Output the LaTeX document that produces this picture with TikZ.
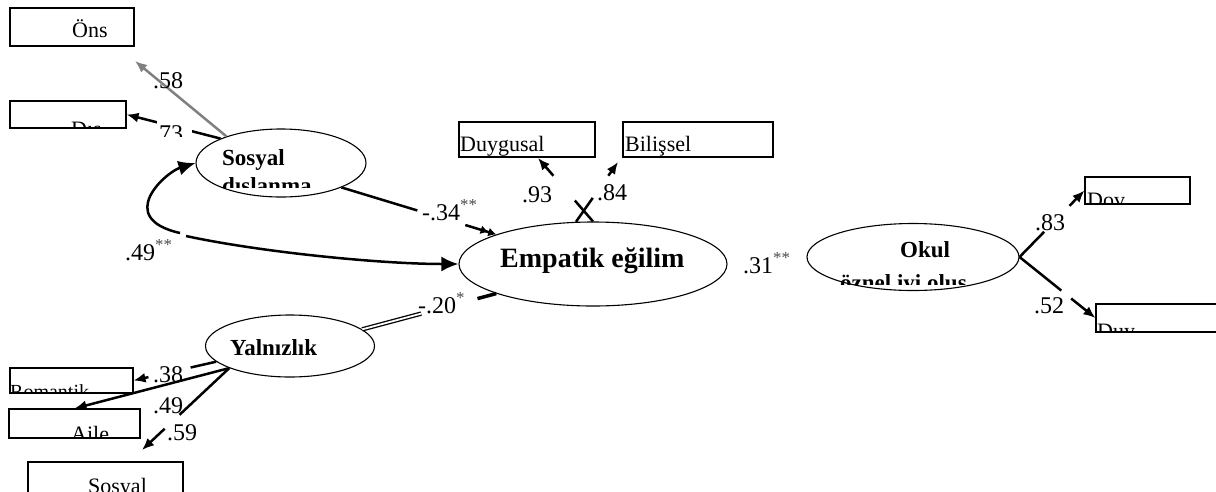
\documentclass[tikz,border=0pt]{standalone}
\usepackage{fontspec}
\setmainfont{Liberation Serif}
\usetikzlibrary{arrows.meta,shapes.geometric,calc}
\tikzset{
 lat/.style={ellipse,draw,line width=1.1pt,inner sep=0pt},
 obs/.style={rectangle,draw,line width=1.1pt,inner sep=0pt},
 conn/.style={line width=2.5pt},
 arr/.style={line width=2.5pt,-{Latex[length=12pt,width=10pt]}},
 bigarr/.style={line width=2.5pt,-{Latex[length=17pt,width=15pt]}},
 num/.style={font=\fontsize{24}{24}\selectfont,inner sep=0pt,anchor=base west},
 boxtxt/.style={font=\fontsize{22}{22}\selectfont,inner sep=0pt,anchor=base west},
 lattxt/.style={font=\bfseries\fontsize{23}{23}\selectfont,inner sep=0pt,anchor=base west},
}
\newcommand\stars[1]{\textsuperscript{\textcolor{black!70}{#1}}}
\begin{document}
\begin{tikzpicture}[x=1pt,y=-1pt]
\useasboundingbox (0,0) rectangle (1216,491);

% latent variables
\node[lat,minimum width=170pt,minimum height=68pt] (sd) at (281,163) {};
\node[lat,minimum width=268pt,minimum height=84pt] (emp) at (593,264) {};
\node[lat,minimum width=212pt,minimum height=67pt] (okul) at (913,257) {};
\node[lat,minimum width=169pt,minimum height=62pt] (yal) at (290,346) {};

% observed variables
\node[obs,minimum width=124pt,minimum height=38pt] (ons) at (72,27) {};
\node[obs,minimum width=116pt,minimum height=27pt] (dis) at (68,114.5) {};
\node[obs,minimum width=136pt,minimum height=35pt] (duyg) at (527,139.5) {};
\node[obs,minimum width=150pt,minimum height=35pt] (bil) at (698,139.5) {};
\node[obs,minimum width=105pt,minimum height=27pt] (dov) at (1137.5,190.5) {};
\node[obs,minimum width=134pt,minimum height=28pt] (duy) at (1163,318) {};
\node[obs,minimum width=123pt,minimum height=25pt] (rom) at (71.5,380.5) {};
\node[obs,minimum width=131pt,minimum height=29pt] (aile) at (74.5,423.5) {};
\node[obs,minimum width=155pt,minimum height=34pt] (sos) at (105.5,479) {};

% free arrow ends
\coordinate (onstip) at (135,61);
\coordinate (duygtip) at (538,158);
\coordinate (biltip) at (618,162);
\coordinate (sostip) at (142,450);

% texts in latent variables
\begin{scope}
\clip (200,135) rectangle (362,187);
\node[lattxt] (sdt1) at (222,165) {Sosyal};
\node[lattxt] (sdt2) at (222,193) {dışlanma};
\end{scope}
\node[font=\bfseries\fontsize{28}{28}\selectfont,inner sep=0pt,anchor=base west] (empt) at (500,267) {Empatik eğilim};
\node[lattxt] (yalt) at (230,355) {Yalnızlık};
\begin{scope}
\clip (820,230) rectangle (1000,284);
\node[lattxt] (okt1) at (900,257) {Okul};
\node[lattxt] (okt2) at (840,290) {öznel iyi oluş};
\end{scope}

% texts in observed variables
\node[boxtxt] (onst) at (72,37) {Öns};
\begin{scope}
\clip (dis.south west) rectangle (dis.north east);
\node[boxtxt] (dist) at (71,136) {Dış};
\end{scope}
\node[boxtxt] (duygt) at (460,151) {Duygusal};
\node[boxtxt] (bilt) at (625,151) {Bilişsel};
\begin{scope}
\clip (dov.south west) rectangle (dov.north east);
\node[boxtxt] (dovt) at (1087,207) {Dov};
\end{scope}
\begin{scope}
\clip (duy.south west) rectangle (duy.north east);
\node[boxtxt] (duyt) at (1097,338) {Duy};
\end{scope}
\begin{scope}
\clip (rom.south west) rectangle (rom.north east);
\node[boxtxt,font=\fontsize{20}{20}\selectfont] (romt) at (10,398) {Romantik};
\end{scope}
\begin{scope}
\clip (aile.south west) rectangle (aile.north east);
\node[boxtxt] (ailet) at (71,441) {Aile};
\end{scope}
\begin{scope}
\clip (sos.south west) rectangle (sos.north east);
\node[boxtxt] (sost) at (88,493) {Sosyal};
\end{scope}

% loadings of Sosyal dislanma
\draw[line width=2.5pt,draw=black!50,-{Latex[length=12pt,width=10pt,fill=black!50]}] (sd.154) -- (onstip);
\node[num] (l58) at (153,88) {.58};
\draw[arr] (sd.158) -- (dis.east);
\fill[white] (157,116) rectangle (192,136);
\begin{scope}
\clip (150,116) rectangle (195,136);
\node[num] (l73) at (153,141) {.73};
\end{scope}

% Sosyal dislanma -> Empatik
\draw[conn] (sd.-22) -- ($(sd.-22)!0.49!(emp.163)$);
\draw[line width=2.5pt,-{Latex[length=8pt,width=9pt]Latex[length=8pt,width=9pt]}] ($(sd.-22)!0.8!(emp.163)$) -- (emp.163);
\node[num] (l34) at (422,220) {-.34\stars{**}};

% covariance
\draw[line width=2.5pt,{Latex[length=17pt,width=15pt]}-] (sd.west) .. controls (166,172) and (114,218) .. (180,233);
\draw[bigarr] (186,236) .. controls (260,252) and (380,264) .. (emp.west);
\node[num] (l49c) at (125,260) {.49\stars{**}};

% Yalnizlik -> Empatik
\draw[line width=1.3pt,double,double distance=1.8pt] (yal.13) -- ($(yal.13)!0.44!(emp.197)$);
\draw[line width=3.5pt] ($(yal.13)!0.86!(emp.197)$) -- (emp.197);
\node[num] (l20) at (418,313) {-.20\stars{*}};

% Empatik loadings
\draw[conn] (emp.90) -- ($(emp.90)!0.33!(duygtip)$);
\draw[arr] ($(emp.90)!0.72!(duygtip)$) -- (duygtip);
\draw[conn] (emp.112) -- ($(emp.112)!0.4!(biltip)$);
\draw[arr] ($(emp.112)!0.77!(biltip)$) -- (biltip);
\node[num] (l93) at (522,202) {.93};
\node[num] (l84) at (597,200) {.84};

% Empatik -> Okul
\node[num] (l31) at (743,273) {.31\stars{**}};

% Okul loadings
\draw[conn] (okul.east) -- ($(okul.east)!0.38!(dov.west)$);
\draw[arr] ($(okul.east)!0.77!(dov.west)$) -- (dov.west);
\node[num] (l83) at (1035,230) {.83};
\draw[conn] (okul.east) -- ($(okul.east)!0.55!(duy.west)$);
\draw[arr] ($(okul.east)!0.68!(duy.west)$) -- (duy.west);
\node[num] (l52) at (1034,313) {.52};

% Yalnizlik loadings
\draw[conn] (yal.192) -- ($(yal.192)!0.31!(rom.east)$);
\draw[arr] ($(yal.192)!0.82!(rom.east)$) -- (rom.east);
\node[num] (l38) at (153,382) {.38};
\draw[arr] (yal.200) -- (aile.north);
\node[num] (l49) at (153,413) {.49};
\draw[conn] (yal.200) -- ($(yal.200)!0.57!(sostip)$);
\draw[arr] ($(yal.200)!0.74!(sostip)$) -- (sostip);
\node[num] (l59) at (167,440) {.59};
\end{tikzpicture}
\end{document}
